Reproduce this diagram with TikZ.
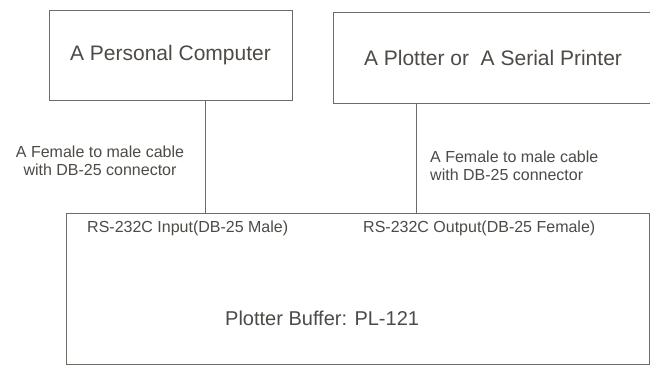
\documentclass[tikz,border=0pt]{standalone}
\usepackage{fontspec}
\setmainfont{Liberation Sans}
\definecolor{inkgray}{HTML}{4E4A46}
\definecolor{linegray}{HTML}{6E6A66}
\tikzset{
  unitbox/.style={draw=linegray,line width=0.9pt,inner sep=0pt,
    text=inkgray,font=\fontsize{21}{24}\selectfont},
  cablelabel/.style={text=inkgray,inner sep=0pt,
    font=\fontsize{16}{18}\selectfont},
  portlabel/.style={text=inkgray,inner sep=0pt,anchor=base west,
    font=\fontsize{16}{18}\selectfont},
  cable/.style={draw=linegray,line width=0.9pt}
}
\begin{document}
\begin{tikzpicture}[x=1pt,y=-1pt,line cap=round]
  \useasboundingbox (0,0) rectangle (650,368);
  \clip (0,0) rectangle (650,368);
  \fill[white] (0,0) rectangle (650,368);
  % the two devices
  \node[unitbox,minimum width=243pt,minimum height=90pt]
    (pc) at (170.5,55) {A Personal Computer};
  \node[unitbox,minimum width=320pt,minimum height=91pt]
    (plt) at (493,57.5) {A Plotter or \ A Serial Printer};
  % the buffer
  \node[unitbox,minimum width=583pt,minimum height=151pt]
    (buf) at (357.5,288.5) {};
  \node[portlabel] (inport) at (87,232) {RS-232C Input(DB-25 Male)};
  \node[portlabel] (outlbl) at (363,232) {RS-232C Output(DB-25 Female)};
  \node[text=inkgray,inner sep=0pt,anchor=base west,
    font=\fontsize{20}{24}\selectfont] (name) at (225,325) {Plotter Buffer: PL-121};
  % cables
  \coordinate (pcport) at (205,213);
  \coordinate (pltport) at (416,213);
  \draw[cable] (pcport |- pc.south) -- (pcport);
  \draw[cable] (pltport |- plt.south) -- (pltport);
  \node[cablelabel,align=center] (pccable) at (100,161)
    {A Female to male cable\\with DB-25 connector};
  \node[cablelabel,align=left,anchor=west] (pltcable) at (430,166)
    {A Female to male cable\\with DB-25 connector};
\end{tikzpicture}
\end{document}
